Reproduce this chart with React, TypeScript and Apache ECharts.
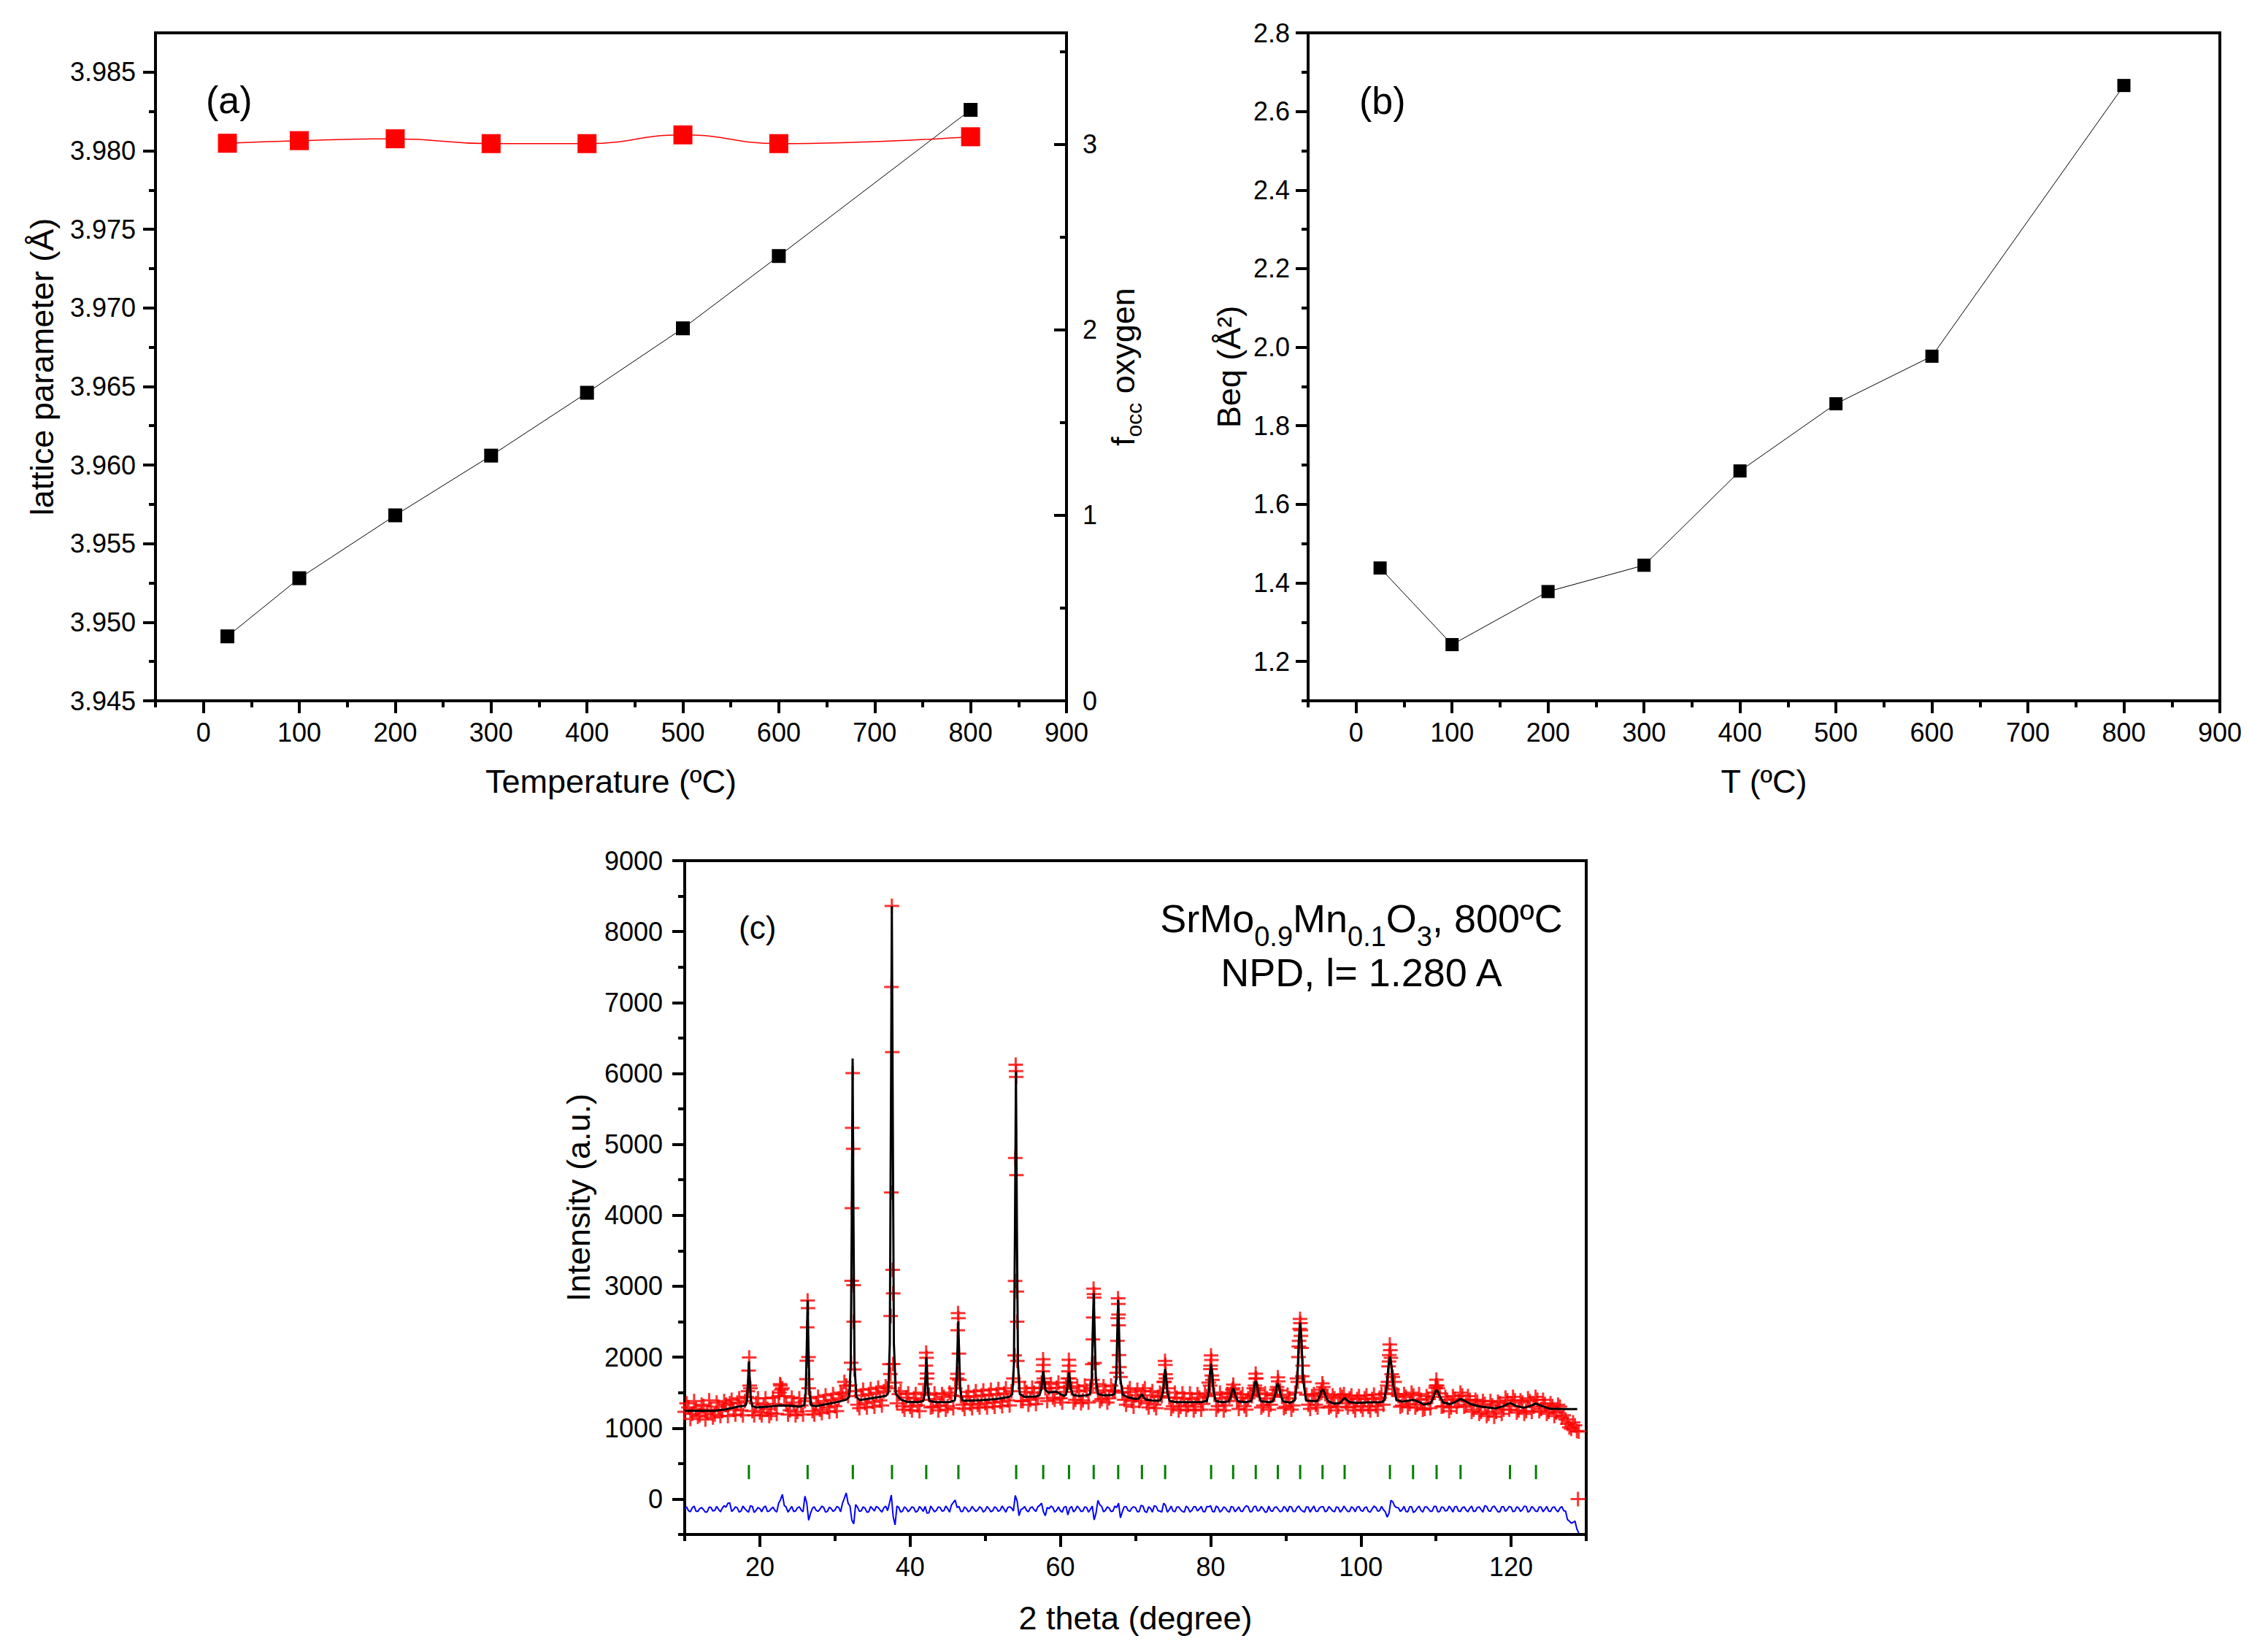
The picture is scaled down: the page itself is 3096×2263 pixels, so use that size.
import React, { useEffect, useRef } from 'react';
import * as echarts from 'echarts';

const FONT = "'Liberation Sans', Arial, Helvetica, sans-serif";

// ---------- panels (a) and (b) ----------
const temperatures = [25, 100, 200, 300, 400, 500, 600, 800];
const latticeParameter = [3.9491, 3.9528, 3.9568, 3.9606, 3.9646, 3.9687, 3.9733, 3.9826];
const oxygenOccupancy = [3.005, 3.019, 3.029, 3.003, 3.003, 3.05, 3.003, 3.04];
const beqValues = [1.438, 1.243, 1.378, 1.445, 1.685, 1.856, 1.977, 2.666];

const tempTicks = [0, 100, 200, 300, 400, 500, 600, 700, 800, 900];
const tempMinorTicks = [-50, 50, 150, 250, 350, 450, 550, 650, 750, 850];
const latticeTicks = [3.945, 3.95, 3.955, 3.96, 3.965, 3.97, 3.975, 3.98, 3.985];
const latticeMinorTicks = [3.9475, 3.9525, 3.9575, 3.9625, 3.9675, 3.9725, 3.9775, 3.9825];
const occTicks = [0, 1, 2, 3];
const occMinorTicks = [0.5, 1.5, 2.5, 3.5];
const beqTicks = [1.2, 1.4, 1.6, 1.8, 2.0, 2.2, 2.4, 2.6, 2.8];
const beqMinorTicks = [1.1, 1.3, 1.5, 1.7, 1.9, 2.1, 2.3, 2.5, 2.7];

// ---------- panel (c) ----------
const thetaTicks = [20, 40, 60, 80, 100, 120];
const thetaMinorTicks = [10, 30, 50, 70, 90, 110, 130];
const intensityTicks = [0, 1000, 2000, 3000, 4000, 5000, 6000, 7000, 8000, 9000];
const intensityMinorTicks = [-500, 500, 1500, 2500, 3500, 4500, 5500, 6500, 7500, 8500];

// observed intensities sampled every 0.5 degree from 10 to 129
const obsStart = 10;
const obsStep = 0.5;
const obsGrid = [
  1230, 1290, 1200, 1270, 1180, 1310, 1220, 1260, 1190, 1300, 1240, 1330, 1350, 1260, 1360, 1250, 1380, 1810, 1240, 1350,
  1220, 1330, 1270, 1210, 1340, 1450, 1560, 1330, 1250, 1360, 1230, 1320, 1380, 1560, 1240, 1350, 1260, 1380, 1290, 1400,
  1310, 1420, 1480, 1600, 1600, 2500, 1330, 1460, 1350, 1480, 1370, 1500, 1390, 1520, 1560, 4321, 1640, 1480, 1310, 1430,
  1300, 1420, 1320, 1400, 1620, 1470, 1300, 1410, 1320, 1440, 1310, 1460, 1560, 2051, 1330, 1440, 1340, 1450, 1330, 1460,
  1350, 1470, 1360, 1480, 1370, 1490, 1390, 1520, 4808, 1650, 1380, 1510, 1400, 1500, 1420, 1640, 1560, 1560, 1430, 1570,
  1420, 1510, 1700, 1560, 1400, 1520, 1390, 1530, 1560, 2840, 1500, 1410, 1530, 1420, 1530, 1780, 1720, 1400, 1510, 1380,
  1460, 1380, 1520, 1350, 1460, 1330, 1440, 1450, 1760, 1430, 1310, 1430, 1300, 1420, 1320, 1410, 1300, 1430, 1340, 1450,
  1880, 1470, 1310, 1420, 1320, 1440, 1560, 1380, 1430, 1310, 1420, 1450, 1700, 1480, 1320, 1420, 1330, 1470, 1660, 1440,
  1300, 1420, 1320, 1700, 2380, 1650, 1330, 1450, 1330, 1480, 1580, 1440, 1310, 1420, 1300, 1440, 1350, 1420, 1300, 1410,
  1310, 1420, 1300, 1410, 1310, 1430, 1330, 1600, 1990, 1650, 1450, 1320, 1440, 1340, 1460, 1330, 1400, 1270, 1410, 1440,
  1600, 1490, 1310, 1400, 1290, 1410, 1380, 1460, 1330, 1400, 1260, 1370, 1230, 1340, 1200, 1320, 1230, 1350, 1260, 1390,
  1310, 1390, 1250, 1360, 1240, 1380, 1300, 1400, 1270, 1340, 1230, 1310, 1220, 1300, 1180, 1060, 990, 1040, 950,
];
// observed intensities at the in-between positions 10.25, 10.75, ... 128.75
const obsMidStart = 10.25;
const obsMidGrid = [
  1350, 1130, 1380, 1160, 1330, 1120, 1390, 1150, 1360, 1170, 1380, 1170, 1400, 1190, 1420, 1180, 1440, 1560, 1180, 1420,
  1180, 1420, 1170, 1430, 1200, 1600, 1450, 1190, 1430, 1180, 1420, 1190, 1950, 1420, 1190, 1440, 1210, 1460, 1230, 1480,
  1240, 1500, 1650, 1450, 4100, 1520, 1280, 1540, 1290, 1550, 1300, 1570, 1320, 1590, 1900, 2900, 1350, 1520, 1260, 1490,
  1250, 1480, 1240, 1500, 1700, 1290, 1490, 1250, 1480, 1260, 1500, 1280, 1700, 1450, 1270, 1510, 1280, 1520, 1290, 1530,
  1290, 1540, 1300, 1550, 1310, 1560, 1320, 1700, 2500, 1380, 1560, 1330, 1570, 1340, 1560, 1650, 1380, 1620, 1400, 1640,
  1360, 1580, 1640, 1360, 1590, 1350, 1600, 1360, 1900, 1620, 1380, 1590, 1360, 1600, 1520, 2600, 1500, 1330, 1560, 1300,
  1540, 1420, 1560, 1290, 1520, 1280, 1500, 1650, 1560, 1270, 1500, 1250, 1490, 1260, 1490, 1250, 1480, 1260, 1490, 1640,
  1680, 1260, 1500, 1250, 1480, 1490, 1500, 1270, 1480, 1260, 1470, 1560, 1530, 1290, 1490, 1260, 1460, 1540, 1530, 1280,
  1470, 1260, 1500, 2150, 1880, 1470, 1270, 1480, 1290, 1500, 1480, 1290, 1460, 1250, 1470, 1480, 1290, 1460, 1250, 1450,
  1260, 1460, 1250, 1470, 1260, 1480, 1490, 1940, 1720, 1480, 1300, 1480, 1290, 1500, 1290, 1480, 1260, 1450, 1280, 1500,
  1560, 1300, 1440, 1240, 1450, 1300, 1500, 1300, 1450, 1230, 1400, 1200, 1380, 1170, 1380, 1160, 1370, 1200, 1430, 1260,
  1440, 1220, 1390, 1200, 1420, 1230, 1440, 1240, 1400, 1200, 1350, 1170, 1330, 1150, 1120, 1010, 1080, 960,
];

// extra observed points on the Bragg peaks
const obsPeakPoints = [
  [18.42, 1520], [18.58, 1996], [18.65, 1600],
  [22.6, 1500], [22.7, 1620], [22.85, 1540],
  [26.22, 1690], [26.3, 2420], [26.36, 2800], [26.42, 2690], [26.48, 2000],
  [32.15, 1922], [32.22, 3076], [32.3, 5234], [32.36, 6004], [32.42, 4938], [32.48, 3015], [32.58, 1826],
  [37.38, 1763], [37.42, 2581], [37.52, 7220], [37.57, 8363], [37.63, 6300], [37.68, 3230], [37.74, 1903],
  [42.1, 1880], [42.14, 2063], [42.2, 1990], [42.26, 1770],
  [46.3, 1764], [46.34, 2380], [46.38, 2621], [46.44, 2550], [46.56, 1680],
  [53.92, 2024], [53.97, 3074], [54.06, 6122], [54.1, 6032], [54.13, 5950], [54.16, 4567], [54.21, 2924], [54.27, 1947],
  [57.66, 1800], [57.7, 1970], [57.75, 1890], [57.8, 1700],
  [61.08, 1800], [61.13, 1962], [61.18, 1880], [61.24, 1700],
  [64.28, 1680], [64.33, 2250], [64.38, 2560], [64.42, 2967], [64.47, 2890], [64.56, 1920],
  [67.6, 2230], [67.64, 2550], [67.68, 2830], [67.72, 2750], [67.76, 2450], [67.8, 2030], [67.85, 1860],
  [73.88, 1650], [73.93, 1946], [73.98, 1890], [74.05, 1700],
  [79.93, 1600], [79.98, 1830], [80.05, 2024], [80.1, 1960], [80.15, 1740],
  [82.9, 1540], [83.02, 1612],
  [85.9, 1600], [86.0, 1767], [86.08, 1700], [86.15, 1560],
  [88.85, 1580], [88.95, 1715],
  [91.6, 1650], [91.7, 2000], [91.78, 2230], [91.85, 2400], [91.9, 2538], [91.95, 2480], [92.02, 2300], [92.1, 2130], [92.2, 1730],
  [94.75, 1540], [94.88, 1630],
  [103.6, 1650], [103.7, 1870], [103.78, 2030], [103.85, 2178], [103.92, 2100], [104.1, 1760], [104.2, 1550],
  [109.95, 1570], [110.05, 1681], [110.15, 1600],
  [128.9, 0],
];

// calculated profile (2theta, intensity)
const calcProfile = [
  [10, 1245], [12, 1245], [14, 1245], [15.5, 1265], [17, 1300], [18.1, 1318], [18.3, 1400], [18.42, 1650], [18.55, 1940],
  [18.68, 1650], [18.8, 1400], [19.0, 1310], [19.5, 1292], [21, 1300], [22.5, 1318], [24, 1315], [25.3, 1302], [25.9, 1320],
  [26.1, 1480], [26.24, 2100], [26.36, 2800], [26.48, 2100], [26.62, 1480], [26.85, 1320], [27.5, 1310], [29, 1340],
  [30.5, 1372], [31.5, 1400], [31.9, 1440], [32.1, 1900], [32.24, 4000], [32.35, 6210], [32.46, 4000], [32.6, 1900],
  [32.85, 1440], [33.3, 1395], [34.5, 1415], [36, 1440], [36.8, 1455], [37.1, 1500], [37.3, 2200], [37.45, 5500],
  [37.57, 8360], [37.69, 5500], [37.84, 2200], [38.1, 1480], [38.8, 1400], [39.6, 1370], [41, 1365], [41.75, 1380],
  [41.95, 1480], [42.07, 1750], [42.17, 2000], [42.27, 1750], [42.4, 1480], [42.6, 1380], [43.5, 1365], [45.3, 1368],
  [45.95, 1390], [46.15, 1560], [46.29, 2050], [46.41, 2505], [46.53, 2050], [46.67, 1560], [46.9, 1390], [47.5, 1385],
  [49.5, 1395], [51.5, 1410], [53.2, 1440], [53.6, 1480], [53.82, 1900], [53.96, 3800], [54.09, 6030], [54.22, 3800],
  [54.36, 1900], [54.6, 1480], [55.2, 1440], [56.7, 1445], [57.2, 1460], [57.45, 1540], [57.6, 1690], [57.72, 1805],
  [57.84, 1690], [58.0, 1540], [58.4, 1500], [59.4, 1515], [60.0, 1480], [60.5, 1455], [60.75, 1470], [60.92, 1550],
  [61.04, 1690], [61.15, 1785], [61.26, 1690], [61.4, 1550], [61.7, 1465], [62.5, 1452], [63.5, 1462], [63.95, 1480],
  [64.18, 1700], [64.32, 2400], [64.44, 2905], [64.56, 2400], [64.72, 1700], [65.0, 1480], [65.7, 1460], [66.8, 1465],
  [67.2, 1480], [67.44, 1700], [67.58, 2350], [67.7, 2805], [67.82, 2350], [67.98, 1700], [68.3, 1470], [69.0, 1435],
  [70.0, 1410], [70.4, 1415], [70.85, 1475], [71.3, 1405], [72.2, 1388], [73.3, 1385], [73.66, 1500], [73.81, 1710],
  [73.95, 1835], [74.09, 1710], [74.25, 1500], [74.55, 1382], [75.5, 1366], [77, 1366], [78.8, 1368], [79.5, 1380],
  [79.77, 1520], [79.92, 1770], [80.07, 1905], [80.22, 1770], [80.38, 1520], [80.7, 1380], [81.6, 1366], [82.4, 1375],
  [82.7, 1450], [82.85, 1525], [83.0, 1560], [83.15, 1525], [83.32, 1450], [83.65, 1375], [84.7, 1366], [85.4, 1380],
  [85.7, 1500], [85.86, 1620], [86.01, 1665], [86.16, 1620], [86.34, 1500], [86.7, 1378], [87.8, 1366], [88.3, 1378],
  [88.62, 1480], [88.8, 1590], [88.95, 1630], [89.1, 1590], [89.3, 1480], [89.65, 1375], [90.6, 1358], [91.2, 1390],
  [91.55, 1700], [91.75, 2250], [91.92, 2485], [92.09, 2250], [92.3, 1700], [92.7, 1390], [93.6, 1382], [94.2, 1380],
  [94.55, 1460], [94.75, 1525], [94.9, 1545], [95.05, 1525], [95.27, 1460], [95.65, 1378], [96.4, 1345], [97.2, 1352],
  [97.84, 1424], [98.5, 1365], [99.5, 1355], [101, 1362], [102.8, 1366], [103.1, 1390], [103.45, 1600], [103.68, 1880],
  [103.88, 2005], [104.08, 1880], [104.33, 1600], [104.75, 1395], [105.5, 1372], [106.3, 1385], [106.95, 1398],
  [107.6, 1375], [108.4, 1332], [109.3, 1350], [109.7, 1450], [109.92, 1515], [110.08, 1535], [110.25, 1515],
  [110.5, 1450], [110.95, 1360], [111.9, 1338], [112.6, 1370], [113.27, 1410], [113.9, 1380], [114.6, 1340],
  [115.9, 1304], [117.9, 1277], [119.0, 1310], [119.85, 1355], [120.7, 1310], [121.7, 1287], [122.5, 1310],
  [123.31, 1345], [124.1, 1310], [125.2, 1272], [127, 1269], [128.8, 1269],
];

// difference curve sampled every 0.5 degree from 10 to 129
const diffStart = 10;
const diffStep = 0.5;
const diffValues = [
  -140, -165, -125, -170, -135, -150, -180, -120, -160, -145, -130, -115, -55, -150, -125, -170, -135, -185, -105, -160,
  -135, -120, -175, -140, -160, -60, 65, -115, -145, -175, -125, -155, 40, -300, -130, -160, -145, -120, -175, -135,
  -155, -120, -60, 85, -100, -350, -115, -165, -130, -180, -135, -105, -155, -125, -165, 55, -365, -120, -170, -135,
  -150, -125, -170, -135, -105, -195, -140, -160, -120, -165, -135, -85, -15, -105, -175, -135, -160, -140, -155, -130,
  -160, -135, -165, -130, -155, -140, -120, -125, 50, -235, -135, -160, -125, -150, -110, -60, -235, -135, -120, -160,
  -165, -115, -225, -105, -155, -130, -170, -120, -145, -295, -20, -105, -160, -130, -170, -120, -265, -110, -160, -130,
  -120, -175, -100, -190, -130, -95, -165, -185, -90, -150, -170, -115, -150, -185, -125, -160, -110, -140, -175, -105,
  -95, -180, -120, -160, -130, -185, -115, -150, -170, -125, -110, -175, -100, -160, -135, -180, -165, -120, -145, -170,
  -130, -105, -175, -120, -150, -185, -115, -140, -170, -125, -110, -165, -135, -180, -120, -155, -140, -175, -130, -115,
  -160, -125, -175, -140, -120, -165, -150, -255, -20, -100, -125, -150, -175, -110, -190, -130, -160, -115, -140, -170,
  -105, -175, -120, -160, -135, -110, -170, -125, -155, -130, -175, -120, -150, -95, -165, -115, -140, -180, -110, -145,
  -115, -170, -125, -150, -105, -165, -130, -175, -115, -145, -170, -120, -155, -130, -165, -290, -340, -310, -480,
];
// difference curve at the in-between positions 10.25, 10.75, ... 128.75
const diffMidStart = 10.25;
const diffMidValues = [
  -110, -180, -100, -175, -120, -185, -115, -170, -105, -180, -95, -60, -175, -110, -185, -100, -165, -95, -190, -120,
  -180, -100, -170, -115, -185, -10, -90, -185, -105, -170, -110, -180, -60, -200, -110, -175, -100, -185, -115, -175,
  -105, -180, 10, -60, -300, -80, -175, -110, -185, -105, -170, -120, -185, -100, -60, -250, -100, -185, -110, -180,
  -110, -185, -105, -175, -200, -100, -180, -110, -170, -100, -185, -50, -120, -175, -110, -180, -105, -175, -110, -185,
  -105, -180, -110, -175, -100, -185, -110, -170, -30, -150, -105, -180, -110, -175, -90, -180, -120, -100, -185, -110,
  -185, -105, -130, -180, -100, -175, -110, -185, -100, -200, -80, -180, -110, -175, -100, -60, -180, -105, -175, -110,
  -180, -90, -175, -110, -185, -105, -170, -60, -185, -100, -180, -110, -175, -100, -185, -110, -170, -105, -180, -110,
  -175, -100, -185, -110, -170, -105, -180, -110, -175, -95, -180, -110, -170, -105, -185, -100, -175, -110, -180, -105,
  -180, -110, -175, -100, -170, -110, -185, -100, -175, -110, -180, -105, -170, -110, -185, -100, -175, -110, -180, -105,
  -175, -110, -185, -100, -170, -105, -180, -200, -40, -120, -175, -105, -180, -110, -170, -100, -185, -110, -175, -105,
  -180, -110, -170, -100, -185, -105, -175, -110, -180, -100, -170, -110, -185, -105, -175, -100, -180, -110, -175, -105,
  -180, -110, -175, -100, -185, -105, -170, -110, -180, -105, -175, -110, -180, -105, -170, -310, -330, -420,
];

// Bragg reflection positions (2theta) and the intensity span of their markers
const braggPositions = [
  18.54, 26.36, 32.38, 37.59, 42.15, 46.43, 54.12, 57.72, 61.15, 64.44, 67.7, 70.86, 73.95, 80.07, 83.0, 86.01, 88.95,
  91.92, 94.9, 97.84, 103.87, 106.95, 110.08, 113.27, 119.85, 123.31,
];
const braggLow = 280;
const braggHigh = 480;

const PLUS =
  'path://M-1,-0.15L-0.15,-0.15L-0.15,-1L0.15,-1L0.15,-0.15L1,-0.15L1,0.15L0.15,0.15L0.15,1L-0.15,1L-0.15,0.15L-1,0.15Z';

const AX = '#000';
const labelStyle = (extra: any = {}) => ({
  fontSize: 36,
  fontFamily: FONT,
  color: AX,
  ...extra,
});
const nameStyle = (extra: any = {}) => ({ fontSize: 45, fontFamily: FONT, color: AX, ...extra });

function mainAxis(o: any) {
  return {
    type: 'value',
    gridIndex: o.grid,
    position: o.position,
    min: o.min,
    max: o.max,
    axisLine: { show: true, onZero: false, lineStyle: { color: AX, width: 4 } },
    axisTick: { show: true, inside: !!o.inside, customValues: o.ticks, length: 17, lineStyle: { color: AX, width: 4 } },
    axisLabel: labelStyle({ customValues: o.ticks, margin: o.margin, formatter: o.formatter || ((v: number) => String(v)) }),
    splitLine: { show: false },
    name: o.name,
    nameLocation: 'middle',
    nameGap: o.nameGap,
    nameRotate: o.nameRotate,
    nameTextStyle: o.nameTextStyle || nameStyle(),
  };
}
function minorAxis(o: any) {
  return {
    type: 'value',
    gridIndex: o.grid,
    position: o.position,
    min: o.min,
    max: o.max,
    axisLine: { show: false, onZero: false },
    axisTick: { show: true, inside: !!o.inside, customValues: o.ticks, length: 9, lineStyle: { color: AX, width: 4 } },
    axisLabel: { show: false },
    splitLine: { show: false },
  };
}

export default function App() {
  const ref = useRef<HTMLDivElement>(null);
  useEffect(() => {
    if (!ref.current) return;
    const chart = echarts.init(ref.current, undefined, { renderer: 'svg' });

    const obsPoints = [
      ...obsGrid.map((v, i) => [obsStart + i * obsStep, v]),
      ...obsMidGrid.map((v, i) => [obsMidStart + i * obsStep, v]),
      ...obsPeakPoints,
    ];
    const diffPoints = [
      ...diffValues.map((v, i) => [diffStart + i * diffStep, v]),
      ...diffMidValues.map((v, i) => [diffMidStart + i * diffStep, v]),
    ].sort((a, b) => a[0] - b[0]);

    const gridBox = { show: true, borderColor: AX, borderWidth: 4, backgroundColor: 'transparent', outerBoundsMode: 'none' };

    const option: any = {
      animation: false,
      backgroundColor: '#fff',
      grid: [
        { ...gridBox, left: 213, top: 45, width: 1248, height: 915 },
        { ...gridBox, left: 1792, top: 45, width: 1249, height: 915 },
        { ...gridBox, left: 938, top: 1179, width: 1235, height: 923 },
      ],
      xAxis: [
        mainAxis({ grid: 0, position: 'bottom', min: -50, max: 900, ticks: tempTicks, margin: 25, name: 'Temperature (ºC)', nameGap: 88 }),
        minorAxis({ grid: 0, position: 'bottom', min: -50, max: 900, ticks: tempMinorTicks }),
        mainAxis({ grid: 1, position: 'bottom', min: -50, max: 900, ticks: tempTicks, margin: 25, name: 'T (ºC)', nameGap: 88 }),
        minorAxis({ grid: 1, position: 'bottom', min: -50, max: 900, ticks: tempMinorTicks }),
        mainAxis({ grid: 2, position: 'bottom', min: 10, max: 130, ticks: thetaTicks, margin: 26, name: '2 theta (degree)', nameGap: 92 }),
        minorAxis({ grid: 2, position: 'bottom', min: 10, max: 130, ticks: thetaMinorTicks }),
      ],
      yAxis: [
        mainAxis({
          grid: 0, position: 'left', min: 3.945, max: 3.9875, ticks: latticeTicks, margin: 27,
          formatter: (v: number) => v.toFixed(3), name: 'lattice parameter (Å)', nameGap: 133, nameRotate: 90,
        }),
        minorAxis({ grid: 0, position: 'left', min: 3.945, max: 3.9875, ticks: latticeMinorTicks }),
        mainAxis({
          grid: 0, position: 'right', min: 0, max: 3.6, ticks: occTicks, margin: 22, inside: true,
          name: '{n|f}{s|occ}{n| oxygen}', nameGap: 47, nameRotate: 90,
          nameTextStyle: nameStyle({
            rich: {
              n: { fontSize: 45, fontFamily: FONT, color: AX, lineHeight: 60 },
              s: { fontSize: 30, fontFamily: FONT, color: AX, verticalAlign: 'bottom', lineHeight: 30 },
            },
          }),
        }),
        minorAxis({ grid: 0, position: 'right', min: 0, max: 3.6, ticks: occMinorTicks, inside: true }),
        mainAxis({
          grid: 1, position: 'left', min: 1.1, max: 2.8, ticks: beqTicks, margin: 25,
          formatter: (v: number) => v.toFixed(1), name: 'Beq (Å²)', nameGap: 86, nameRotate: 90,
        }),
        minorAxis({ grid: 1, position: 'left', min: 1.1, max: 2.8, ticks: beqMinorTicks }),
        mainAxis({
          grid: 2, position: 'left', min: -500, max: 9000, ticks: intensityTicks, margin: 30,
          name: 'Intensity (a.u.)', nameGap: 123, nameRotate: 90,
        }),
        minorAxis({ grid: 2, position: 'left', min: -500, max: 9000, ticks: intensityMinorTicks }),
      ],
      series: [
        {
          type: 'line', xAxisIndex: 0, yAxisIndex: 0,
          data: temperatures.map((t, i) => [t, latticeParameter[i]]),
          symbol: 'rect', symbolSize: 19, itemStyle: { color: '#000' }, lineStyle: { color: '#000', width: 1 },
        },
        {
          type: 'line', xAxisIndex: 0, yAxisIndex: 2, smooth: true,
          data: temperatures.map((t, i) => [t, oxygenOccupancy[i]]),
          symbol: 'rect', symbolSize: 26, itemStyle: { color: '#ff0000' }, lineStyle: { color: '#ff0000', width: 1.5 },
        },
        {
          type: 'line', xAxisIndex: 2, yAxisIndex: 4,
          data: temperatures.map((t, i) => [t, beqValues[i]]),
          symbol: 'rect', symbolSize: 18, itemStyle: { color: '#000' }, lineStyle: { color: '#000', width: 1 },
        },
        {
          type: 'scatter', xAxisIndex: 4, yAxisIndex: 6, data: obsPoints,
          symbol: PLUS, symbolSize: 20, itemStyle: { color: '#ff0000' },
        },
        {
          type: 'line', xAxisIndex: 4, yAxisIndex: 6, data: calcProfile,
          symbol: 'none', lineStyle: { color: '#000', width: 3 },
        },
        {
          type: 'line', xAxisIndex: 4, yAxisIndex: 6, data: diffPoints,
          symbol: 'none', lineStyle: { color: '#0000ff', width: 2 },
        },
        {
          type: 'custom', xAxisIndex: 4, yAxisIndex: 6,
          data: braggPositions.map((p) => [p, braggLow, braggHigh]),
          renderItem: (params: any, api: any) => {
            const x = api.value(0);
            const p1 = api.coord([x, api.value(1)]);
            const p2 = api.coord([x, api.value(2)]);
            return {
              type: 'line',
              shape: { x1: p1[0], y1: p1[1], x2: p2[0], y2: p2[1] },
              style: { stroke: '#008000', lineWidth: 3 },
            };
          },
        },
      ],
      graphic: [
        { type: 'text', x: 282, y: 137, style: { text: '(a)', fontSize: 52, fontFamily: FONT, fill: AX, align: 'left', verticalAlign: 'middle' } },
        { type: 'text', x: 1862, y: 138, style: { text: '(b)', fontSize: 52, fontFamily: FONT, fill: AX, align: 'left', verticalAlign: 'middle' } },
        { type: 'text', x: 1012, y: 1270, style: { text: '(c)', fontSize: 44, fontFamily: FONT, fill: AX, align: 'left', verticalAlign: 'middle' } },
        {
          type: 'text', x: 1865, y: 1258,
          style: {
            text: 'SrMo{s|0.9}Mn{s|0.1}O{s|3}, 800ºC',
            fontSize: 54, fontFamily: FONT, fill: AX, align: 'center', verticalAlign: 'middle', lineHeight: 88,
            rich: { s: { fontSize: 38, fontFamily: FONT, fill: AX, verticalAlign: 'bottom', lineHeight: 38 } },
          },
        },
        {
          type: 'text', x: 1865, y: 1332,
          style: { text: 'NPD, l= 1.280 A', fontSize: 54, fontFamily: FONT, fill: AX, align: 'center', verticalAlign: 'middle' },
        },
      ],
    };
    chart.setOption(option);
    return () => chart.dispose();
  }, []);

  return (
    <div
      ref={ref}
      style={{ position: 'absolute', left: 0, top: 0, width: 3096, height: 2263, background: '#fff' }}
    />
  );
}
